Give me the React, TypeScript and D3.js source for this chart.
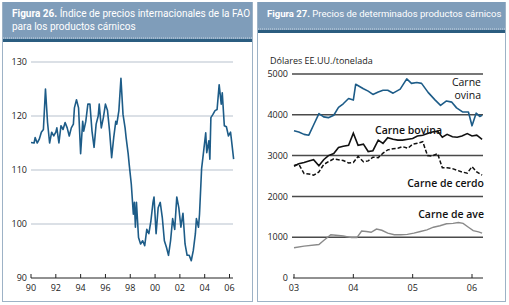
import React from "react";
import * as d3 from "d3";

// Figura 26: índice FAO (meses desde ene-1990, valor)
const indexMonths = [0, 3, 4, 6, 8, 10, 12, 14, 16, 18, 20, 22, 24, 25, 27, 29, 31, 33, 35, 37, 39, 41, 42, 44, 46, 48, 50, 51, 53, 55, 57, 59, 61, 63, 65, 66, 68, 70, 72, 74, 76, 78, 80, 82, 83, 85, 87, 89, 91, 92, 94, 95, 97, 99, 100, 101, 102, 104, 106, 108, 110, 112, 114, 116, 118, 119, 121, 123, 125, 127, 129, 131, 133, 135, 137, 139, 141, 143, 145, 147, 149, 151, 153, 155, 157, 159, 160, 162, 163, 165, 167, 169, 170, 172, 173, 174, 176, 178, 180, 182, 184, 185, 187, 189, 191, 193, 194, 196];
const indexValues = [115.1, 115, 116, 115, 115.7, 117, 117.5, 125, 118.8, 115, 117, 116.3, 117, 117.8, 115, 118.2, 117.5, 118.8, 117.8, 116.3, 117.8, 118.5, 121.5, 123, 121.5, 113, 119, 117.2, 119, 122.2, 122.2, 117.2, 114.2, 118.5, 120, 122.2, 117.8, 119.7, 122.2, 121, 117.2, 112.3, 116, 119, 118.5, 121, 127, 120.3, 117.8, 116, 113, 111, 107.4, 101.8, 104, 99.4, 104, 97.5, 96.3, 96.9, 96, 99, 98.2, 100.6, 104, 105, 98.2, 103, 104, 101.2, 96.9, 95.7, 94.2, 96.9, 101, 99, 105, 103, 99.4, 102, 96.3, 94.2, 94.2, 93.2, 95.1, 98.2, 101, 99.4, 101.8, 110.2, 113.5, 116.9, 113.2, 115.4, 112, 119.7, 120.3, 121, 121.2, 125.8, 122.2, 124.3, 118.2, 118, 116.3, 117, 115.4, 112];
const indexYearTicks = [1990, 1992, 1994, 1996, 1998, 2000, 2002, 2004, 2006];
const indexValueTicks = [90, 100, 110, 120, 130];

// Figura 27: precios (año decimal, USD/t)
const ovinaYears = [2003.0, 2003.08, 2003.17, 2003.25, 2003.33, 2003.42, 2003.5, 2003.58, 2003.67, 2003.75, 2003.83, 2003.92, 2004.0, 2004.04, 2004.17, 2004.25, 2004.33, 2004.42, 2004.5, 2004.58, 2004.67, 2004.79, 2004.9, 2004.98, 2005.07, 2005.15, 2005.26, 2005.38, 2005.47, 2005.57, 2005.66, 2005.74, 2005.84, 2005.94, 2006.0, 2006.07, 2006.13, 2006.17];
const ovinaValues = [3610, 3580, 3520, 3500, 3750, 4030, 3950, 3930, 3990, 4180, 4270, 4400, 4360, 4750, 4640, 4580, 4500, 4560, 4600, 4600, 4530, 4630, 4880, 4770, 4790, 4770, 4550, 4360, 4230, 4340, 4310, 4170, 4070, 4070, 3730, 4040, 3960, 3990];

const monthlyYears = [2003.0, 2003.08, 2003.17, 2003.25, 2003.33, 2003.42, 2003.5, 2003.58, 2003.67, 2003.75, 2003.83, 2003.92, 2004.0, 2004.08, 2004.17, 2004.25, 2004.33, 2004.42, 2004.5, 2004.58, 2004.67, 2004.75, 2004.83, 2004.92, 2005.0, 2005.08, 2005.17, 2005.25, 2005.33, 2005.42, 2005.5, 2005.58, 2005.67, 2005.75, 2005.83, 2005.92, 2006.0, 2006.08, 2006.17];
const bovinaValues = [2740, 2800, 2830, 2870, 2900, 2750, 2900, 3000, 3050, 3200, 3230, 3250, 3550, 3250, 3280, 3100, 3120, 3380, 3300, 3440, 3400, 3380, 3380, 3400, 3420, 3480, 3500, 3540, 3580, 3600, 3450, 3520, 3460, 3450, 3480, 3540, 3480, 3500, 3400];
const cerdoValues = [2760, 2790, 2560, 2550, 2520, 2600, 2780, 2850, 2920, 2900, 2880, 2820, 2830, 2980, 2850, 2870, 2960, 2950, 3060, 3140, 3170, 3180, 3220, 3180, 3280, 3300, 3340, 3000, 2990, 3050, 2700, 2700, 2680, 2640, 2600, 2570, 2730, 2600, 2520];

const aveYears = [2003.0, 2003.17, 2003.42, 2003.5, 2003.62, 2003.75, 2003.83, 2003.97, 2004.06, 2004.14, 2004.22, 2004.3, 2004.39, 2004.48, 2004.58, 2004.69, 2004.8, 2004.91, 2005.02, 2005.13, 2005.24, 2005.35, 2005.46, 2005.57, 2005.68, 2005.77, 2005.85, 2005.94, 2006.02, 2006.11, 2006.17];
const aveValues = [740, 780, 820, 920, 1060, 1040, 1030, 990, 990, 1150, 1140, 1120, 1200, 1170, 1100, 1060, 1060, 1070, 1100, 1140, 1180, 1245, 1280, 1330, 1340, 1360, 1340, 1245, 1160, 1130, 1100];

const priceYearTicks = [2003, 2004, 2005, 2006];
const priceValueTicks = [0, 1000, 2000, 3000, 4000, 5000];

const FONT = "'Open Sans', 'DejaVu Sans', sans-serif";
const TITLE_FONT = "Roboto, 'Open Sans', sans-serif";
const HEADER = "#7f9dba";
const BORDER = "#9db2c6";
const DARK = "#2b5d80";
const LINE_BLUE = "#1d5c88";

type P = [number, number];

const Header = ({ x, w, h, size, lines }: { x: number; w: number; h: number; size: number; lines: [string, string][] }) => (
  <g>
    <rect x={x} y={2} width={w} height={h} fill={HEADER} />
    <line x1={x} x2={x + w} y1={h + 1} y2={h + 1} stroke="#c9d6e2" strokeDasharray="1,1" />
    <rect x={x} y={h + 2} width={w} height={3} fill={DARK} />
    {lines.map(([bold, rest], i) => (
      <text key={i} x={x + 9} y={17 + i * 13} fill="#fff" fontSize={size} fontFamily={TITLE_FONT}>
        {bold && <tspan fontWeight={700}>{bold}</tspan>}
        {rest}
      </text>
    ))}
  </g>
);

const IndexChart = () => {
  const x = d3.scaleLinear().domain([1990, 2006]).range([31, 229.5]);
  const y = d3.scaleLinear().domain([90, 130]).range([278, 62]);
  const pts: P[] = indexMonths.map((m, i) => [1990 + m / 12, indexValues[i]]);
  const line = d3.line<P>().x((d) => x(d[0])).y((d) => y(d[1]));
  return (
    <g fontFamily={FONT}>
      {indexValueTicks.map((t) => (
        <g key={t}>
          {t > 90 && <line x1={31} x2={233} y1={y(t)} y2={y(t)} stroke="#b7c2ce" strokeWidth={1.2} />}
          <text x={27} y={y(t)} dy="0.35em" textAnchor="end" fontSize={9} fill="#222">{t}</text>
        </g>
      ))}
      <path d={line(pts) || ""} fill="none" stroke={LINE_BLUE} strokeWidth={1.6} strokeLinejoin="round" />
      <line x1={31} x2={233} y1={278} y2={278} stroke="#222" strokeWidth={1} />
      {indexYearTicks.map((t) => (
        <g key={t}>
          <line x1={x(t)} x2={x(t)} y1={278} y2={274} stroke="#222" />
          <text x={x(t)} y={291} textAnchor="middle" fontSize={9} fill="#222">
            {String(t % 100).padStart(2, "0")}
          </text>
        </g>
      ))}
    </g>
  );
};

const PriceChart = () => {
  const x = d3.scaleLinear().domain([2003, 2006]).range([294, 472]);
  const y = d3.scaleLinear().domain([0, 5000]).range([278, 74]);
  const line = d3.line<P>().x((d) => x(d[0])).y((d) => y(d[1]));
  const ovina: P[] = ovinaYears.map((t, i) => [t, ovinaValues[i]]);
  const bovina: P[] = monthlyYears.map((t, i) => [t, bovinaValues[i]]);
  const cerdo: P[] = monthlyYears.map((t, i) => [t, cerdoValues[i]]);
  const ave: P[] = aveYears.map((t, i) => [t, aveValues[i]]);
  return (
    <g fontFamily={FONT}>
      <text x={270} y={64} fontSize={9} fill="#222">Dólares EE.UU./tonelada</text>
      {priceValueTicks.map((t) => (
        <g key={t}>
          {t > 0 && <line x1={292} x2={483} y1={y(t)} y2={y(t)} stroke="#4a4a4a" strokeWidth={1.5} />}
          <text x={288} y={y(t)} dy="0.35em" textAnchor="end" fontSize={9} fill="#222">{t}</text>
        </g>
      ))}
      <path d={line(ave) || ""} fill="none" stroke="#8a8a8a" strokeWidth={1.4} />
      <path d={line(cerdo) || ""} fill="none" stroke="#111" strokeWidth={1.5} strokeDasharray="4,2" />
      <path d={line(bovina) || ""} fill="none" stroke="#111" strokeWidth={1.6} />
      <path d={line(ovina) || ""} fill="none" stroke={LINE_BLUE} strokeWidth={1.6} strokeLinejoin="round" />
      <line x1={293} x2={483} y1={278} y2={278} stroke="#222" />
      {priceYearTicks.map((t) => (
        <g key={t}>
          <line x1={x(t)} x2={x(t)} y1={278} y2={274} stroke="#222" />
          <text x={x(t)} y={291} textAnchor="middle" fontSize={9} fill="#222">
            {String(t % 100).padStart(2, "0")}
          </text>
        </g>
      ))}
      <g fontSize={10.5} fill="#111" textAnchor="end">
        <text x={481} y={86}>Carne</text>
        <text x={481} y={99}>ovina</text>
        <text x={442} y={134} fontWeight={600}>Carne bovina</text>
        <text x={484} y={187} fontWeight={600}>Carne de cerdo</text>
        <text x={484} y={218} fontWeight={600}>Carne de ave</text>
      </g>
    </g>
  );
};

export default function App() {
  return (
    <svg width={509} height={305} style={{ position: "absolute", left: 0, top: 0, background: "#fff" }}>
      <rect x={2.5} y={2.5} width={250} height={299} fill="#fff" stroke={BORDER} />
      <rect x={257.5} y={2.5} width={248} height={299} fill="#fff" stroke={BORDER} />
      <Header x={3} w={249} h={37} size={10} lines={[["Figura 26.", " Índice de precios internacionales de la FAO"], ["", "para los productos cárnicos"]]} />
      <Header x={258} w={247} h={28} size={9.5} lines={[["Figura 27.", " Precios de determinados productos cárnicos"]]} />
      <IndexChart />
      <PriceChart />
    </svg>
  );
}
